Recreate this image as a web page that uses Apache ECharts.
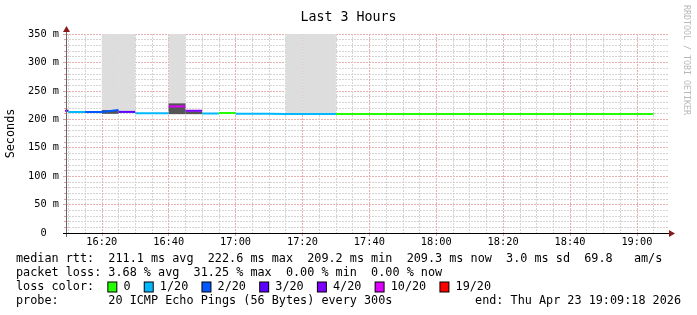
<!DOCTYPE html>
<html><head><meta charset="utf-8">
<script src="https://cdn.jsdelivr.net/npm/echarts@6/dist/echarts.min.js"></script>
<style>html,body{margin:0;padding:0;background:#fff}#c{width:697px;height:315px}</style>
</head><body><div id="c"></div>
<script>
// ---------- data ----------
const axisStart = "16:09:18";
const axisEnd = "19:09:18";
const xTickLabels = ["16:20","16:40","17:00","17:20","17:40","18:00","18:20","18:40","19:00"];
const slotTimes = ["16:05","16:10","16:15","16:20","16:25","16:30","16:35","16:40","16:45","16:50","16:55","17:00",
  "17:05","17:10","17:15","17:20","17:25","17:30","17:35","17:40","17:45","17:50","17:55","18:00","18:05","18:10",
  "18:15","18:20","18:25","18:30","18:35","18:40","18:45","18:50","18:55","19:00"];
const medianMs = [215.0,212.8,212.8,216.3,213.0,210.8,210.8,222.6,214.8,210.2,211.0,209.9,
  209.9,209.3,209.3,209.3,209.3,209.3,209.3,209.3,209.3,209.3,209.3,209.3,209.3,209.3,
  209.3,209.3,209.3,209.3,209.3,209.3,209.3,209.3,209.3,209.3];
const lossLabel = ["4/20","1/20","2/20","2/20","3/20","1/20","1/20","10/20","4/20","1/20","0","1/20",
  "1/20","1/20","1/20","1/20","1/20","0","0","0","0","0","0","0","0","0",
  "0","0","0","0","0","0","0","0","0","0"];
// smoke: lowest ping, upper edge of dense smoke, highest ping
const pingMinMs = [214.0,null,null,209.6,212.0,null,null,209.0,209.0,null,null,null,
  null,209.3,209.3,209.3,209.3,null,null,null,null,null,null,null,null,null,
  null,null,null,null,null,null,null,null,null,null];
const pingHighMs = [215.5,null,null,216.3,213.0,null,null,228.0,214.0,null,null,null,
  null,211.0,211.0,211.0,211.0,null,null,null,null,null,null,null,null,null,
  null,null,null,null,null,null,null,null,null,null];
const pingMaxMs = [218.5,null,null,400,400,null,null,400,null,null,null,null,
  null,null,400,400,400,null,null,null,null,null,null,null,null,null,
  null,null,null,null,null,null,null,null,null,null];
const lossBuckets = ["0","1/20","2/20","3/20","4/20","10/20","19/20"];
const yTicksMs = [0,50,100,150,200,250,300,350];
const titleText = "Last 3 Hours";
const legendRows = [
  "median rtt:  211.1 ms avg  222.6 ms max  209.2 ms min  209.3 ms now  3.0 ms sd  69.8   am/s",
  "packet loss: 3.68 % avg  31.25 % max  0.00 % min  0.00 % now"
];
const probeText = "probe:       20 ICMP Echo Pings (56 Bytes) every 300s";
const endText = "end: Thu Apr 23 19:09:18 2026";
const watermark = "RRDTOOL / TOBI OETIKER";

// ---------- styling ----------
const lossColors = {"0":"#26ff00","1/20":"#00b8ff","2/20":"#0059ff","3/20":"#5e00ff","4/20":"#7e00ff","10/20":"#dd00ff","19/20":"#ff0000"};
const MONO = "'DejaVu Sans Mono', monospace";
const STEP = 5 * 60 * 1000;
function ts(hms) { const p = hms.split(':').map(Number); return new Date(2026, 3, 23, p[0], p[1], p[2] || 0).getTime(); }
const tMin = ts(axisStart), tMax = ts(axisEnd);
const pad = n => (n < 10 ? '0' : '') + n;
const fmtTime = v => { const d = new Date(v); return pad(d.getHours()) + ':' + pad(d.getMinutes()); };
const majorTickValues = xTickLabels.map(ts);
const minorTickValues = [];
for (let t = Math.ceil(tMin / STEP) * STEP; t < tMax; t += STEP) minorTickValues.push(t);

function rectSeries(name, loArr, hiArr, color, z) {
  const data = [];
  slotTimes.forEach((t, i) => {
    if (loArr[i] != null && hiArr[i] != null) data.push([ts(t), ts(t) + STEP, loArr[i], hiArr[i]]);
  });
  return {
    type: 'custom', name, z, silent: true, data,
    encode: { x: [0, 1], y: [2, 3] },
    renderItem(params, api) {
      const p0 = api.coord([api.value(0), api.value(3)]);
      const p1 = api.coord([api.value(1), api.value(2)]);
      const shape = echarts.graphic.clipRectByRect(
        { x: p0[0], y: p0[1], width: p1[0] - p0[0], height: p1[1] - p0[1] },
        { x: params.coordSys.x, y: params.coordSys.y, width: params.coordSys.width, height: params.coordSys.height });
      return shape && { type: 'rect', shape, style: { fill: color } };
    }
  };
}

const lineSeries = lossBuckets.map(b => {
  const data = [];
  slotTimes.forEach((t, i) => {
    const s = ts(t);
    if (lossLabel[i] === b) { data.push([s, medianMs[i]], [s + STEP, medianMs[i]]); }
    else data.push([s, '-']);
  });
  return { type: 'line', name: b, data, showSymbol: false, symbol: 'none', z: 5,
    lineStyle: { width: 2, color: lossColors[b] }, itemStyle: { color: lossColors[b] }, connectNulls: false };
});

const chart = echarts.init(document.getElementById('c'), null, { renderer: 'canvas' });
const gridTop = 34, gridLeft = 66, gridRight = 697 - 668, gridBottom = 315 - 233;

let richLegend = 'loss color:  ';
const rich = {};
lossBuckets.forEach((b, i) => {
  rich['k' + i] = { width: 8, height: 9, backgroundColor: lossColors[b], borderColor: '#000', borderWidth: 1 };
  richLegend += '{k' + i + '| } ' + b + (i < lossBuckets.length - 1 ? '  ' : '');
});

const textFont = '11.8px ' + MONO;
const graphics = [
  { type: 'text', x: 16, y: 259, style: { text: legendRows[0], font: textFont, fill: '#000', verticalAlign: 'middle' } },
  { type: 'text', x: 16, y: 273, style: { text: legendRows[1], font: textFont, fill: '#000', verticalAlign: 'middle' } },
  { type: 'text', x: 16, y: 287, style: { text: richLegend, font: textFont, fill: '#000', verticalAlign: 'middle', rich } },
  { type: 'text', x: 16, y: 301, style: { text: probeText, font: textFont, fill: '#000', verticalAlign: 'middle' } },
  { type: 'text', x: 681, y: 301, style: { text: endText, font: textFont, fill: '#000', verticalAlign: 'middle', align: 'right' } },
  { type: 'text', x: 686, y: 60, rotation: -Math.PI / 2, style: { text: watermark, font: '8.3px ' + MONO, fill: '#b8b8b8', align: 'center', verticalAlign: 'middle' } },
  // axis extensions and arrows
  { type: 'line', shape: { x1: 66.5, y1: 237, x2: 66.5, y2: 29 }, style: { stroke: '#666', lineWidth: 1 }, z: 10 },
  { type: 'line', shape: { x1: 63, y1: 233.5, x2: 670, y2: 233.5 }, style: { stroke: '#000', lineWidth: 1 }, z: 10 },
  { type: 'polygon', shape: { points: [[63, 32], [70, 32], [66.5, 26]] }, style: { fill: '#8b1a1a' }, z: 11 },
  { type: 'polygon', shape: { points: [[669, 230], [669, 237], [675, 233.5]] }, style: { fill: '#8b1a1a' }, z: 11 }
];

chart.setOption({
  animation: false,
  backgroundColor: '#fff',
  title: { text: titleText, left: 'center', top: 6, textStyle: { fontFamily: MONO, fontSize: 13.3, fontWeight: 'normal', color: '#000' } },
  grid: { left: gridLeft, right: gridRight, top: gridTop, bottom: gridBottom, containLabel: false, outerBoundsMode: 'none' },
  xAxis: [
    { type: 'value', min: tMin, max: tMax, scale: true,
      axisLine: { show: false }, axisTick: { show: false, customValues: minorTickValues }, axisLabel: { show: false, customValues: minorTickValues },
      splitLine: { show: true, lineStyle: { color: '#d4d4d4', type: [2, 1], width: 1 } } },
    { type: 'value', min: tMin, max: tMax, scale: true, position: 'bottom',
      axisLine: { show: false },
      axisTick: { show: true, length: 3, customValues: majorTickValues, lineStyle: { color: '#e0a0a0' } },
      axisLabel: { formatter: fmtTime, customValues: majorTickValues, fontFamily: MONO, fontSize: 10.3, color: '#000', margin: 4, hideOverlap: false },
      splitLine: { show: true, lineStyle: { color: '#e8b0b0', type: [2, 1], width: 1 } } }
  ],
  yAxis: {
    type: 'value', min: yTicksMs[0], max: yTicksMs[yTicksMs.length - 1], interval: 50,
    axisLine: { show: false },
    axisTick: { show: true, length: 3, lineStyle: { color: '#e0a0a0' } },
    minorTick: { show: true, splitNumber: 5, length: 2, lineStyle: { color: '#e0a0a0' } },
    axisLabel: { formatter: v => v === 0 ? '0  ' : v + ' m', fontFamily: MONO, fontSize: 10.3, color: '#000', margin: 7 },
    splitLine: { show: true, lineStyle: { color: '#e8b0b0', type: [2, 1] } },
    minorSplitLine: { show: true, lineStyle: { color: '#d4d4d4', type: [2, 1] } },
    name: 'Seconds', nameLocation: 'middle', nameRotate: 90, nameGap: 47,
    nameTextStyle: { fontFamily: MONO, fontSize: 11.8, color: '#000' }
  },
  series: [
    rectSeries('smoke max', medianMs, pingMaxMs, '#dddddd', 2),
    rectSeries('smoke dense', pingMinMs, pingHighMs, '#555555', 3),
    ...lineSeries
  ],
  graphic: graphics
});
</script></body></html>
